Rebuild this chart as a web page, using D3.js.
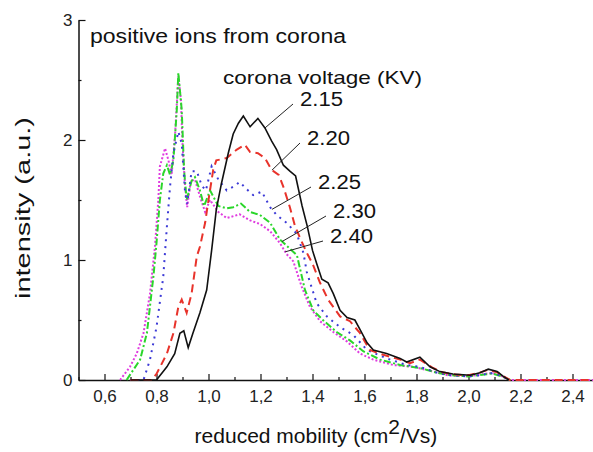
<!DOCTYPE html>
<meta charset="utf-8" />
<style>
  body { margin: 0; background: #fff; }
  text { font-family: "Liberation Sans", Arial, sans-serif; fill: #111; }
  .axis path, .axis line { stroke: #111; }
  .axis path { stroke-width: 1.5; }
  .axis line { stroke-width: 1.2; }
  .axis text { font-size: 17px; fill: #222; }
  .curve { fill: none; }
</style>
<svg width="593" height="452"></svg>
<script src="https://d3js.org/d3.v7.min.js"></script>
<script>
  // reduced mobility (cm2/Vs) and intensity (a.u.) for each corona voltage
  var x215 = [0.70, 0.80, 0.84, 0.87, 0.89, 0.905, 0.922, 0.94, 0.967, 0.993, 1.012, 1.03, 1.05, 1.076, 1.095, 1.115, 1.134, 1.16, 1.19, 1.217, 1.243, 1.262, 1.288, 1.313, 1.335, 1.36, 1.38, 1.40, 1.416, 1.436, 1.46, 1.48, 1.506, 1.533, 1.563, 1.583, 1.61, 1.634, 1.685, 1.737, 1.762, 1.813, 1.852, 1.89, 1.94, 2.006, 2.044, 2.076, 2.11, 2.134, 2.155];
  var y215 = [0, 0, 0.11, 0.22, 0.39, 0.41, 0.27, 0.39, 0.56, 0.75, 1.08, 1.42, 1.64, 1.89, 2.05, 2.14, 2.20, 2.11, 2.18, 2.10, 1.99, 1.92, 1.79, 1.74, 1.70, 1.45, 1.28, 1.08, 0.97, 0.84, 0.81, 0.72, 0.58, 0.52, 0.50, 0.42, 0.31, 0.25, 0.22, 0.18, 0.15, 0.19, 0.11, 0.07, 0.05, 0.04, 0.06, 0.09, 0.07, 0.03, 0];

  var x220 = [0.70, 0.78, 0.80, 0.84, 0.865, 0.884, 0.897, 0.916, 0.935, 0.955, 0.967, 0.987, 1.00, 1.018, 1.03, 1.07, 1.109, 1.14, 1.16, 1.19, 1.217, 1.243, 1.27, 1.288, 1.313, 1.333, 1.355, 1.378, 1.40, 1.429, 1.46, 1.506, 1.544, 1.583, 1.62, 1.672, 1.737, 1.775, 1.813, 1.864, 1.90, 1.95, 2.0, 2.04, 2.075, 2.11, 2.135, 2.16, 2.5];
  var y220 = [0, 0, 0.05, 0.22, 0.39, 0.61, 0.67, 0.56, 0.72, 1.03, 1.11, 1.31, 1.5, 1.75, 1.83, 1.85, 1.92, 1.96, 1.90, 1.89, 1.85, 1.75, 1.71, 1.61, 1.44, 1.28, 1.17, 1.06, 0.97, 0.81, 0.67, 0.53, 0.49, 0.39, 0.25, 0.21, 0.17, 0.14, 0.17, 0.10, 0.065, 0.045, 0.04, 0.06, 0.085, 0.065, 0.03, 0, 0];

  var x225 = [0.70, 0.75, 0.775, 0.80, 0.826, 0.84, 0.852, 0.865, 0.884, 0.897, 0.91, 0.918, 0.935, 0.955, 0.974, 0.99, 1.012, 1.038, 1.07, 1.095, 1.12, 1.147, 1.172, 1.205, 1.237, 1.262, 1.30, 1.339, 1.365, 1.378, 1.416, 1.455, 1.506, 1.557, 1.61, 1.685, 1.762, 1.813, 1.88, 1.93, 2.0, 2.05, 2.08, 2.12, 2.16];
  var y225 = [0, 0, 0.17, 0.44, 0.86, 1.28, 1.61, 1.89, 2.07, 1.97, 1.56, 1.47, 1.74, 1.74, 1.62, 1.58, 1.78, 1.67, 1.58, 1.61, 1.65, 1.59, 1.54, 1.57, 1.44, 1.375, 1.31, 1.22, 1.06, 0.90, 0.64, 0.53, 0.44, 0.375, 0.25, 0.18, 0.125, 0.11, 0.06, 0.04, 0.03, 0.04, 0.06, 0.04, 0];

  var x230 = [0.685, 0.737, 0.763, 0.788, 0.80, 0.813, 0.826, 0.84, 0.852, 0.865, 0.878, 0.884, 0.897, 0.906, 0.916, 0.935, 0.948, 0.967, 0.983, 1.006, 1.018, 1.038, 1.07, 1.095, 1.125, 1.16, 1.198, 1.237, 1.275, 1.30, 1.34, 1.371, 1.403, 1.44, 1.493, 1.544, 1.595, 1.66, 1.737, 1.813, 1.88, 1.93, 2.0, 2.06, 2.09, 2.13, 2.16];
  var y230 = [0, 0.17, 0.39, 0.86, 1.14, 1.5, 1.72, 1.79, 1.71, 1.83, 2.25, 2.56, 2.25, 1.75, 1.5, 1.66, 1.69, 1.58, 1.45, 1.58, 1.53, 1.45, 1.43, 1.44, 1.47, 1.40, 1.375, 1.31, 1.17, 1.12, 1.04, 0.75, 0.58, 0.50, 0.40, 0.33, 0.24, 0.17, 0.125, 0.10, 0.06, 0.04, 0.03, 0.045, 0.055, 0.03, 0];

  var x240 = [0.66, 0.698, 0.724, 0.75, 0.775, 0.794, 0.807, 0.813, 0.833, 0.846, 0.858, 0.871, 0.884, 0.894, 0.90, 0.91, 0.918, 0.932, 0.948, 0.967, 0.987, 1.006, 1.038, 1.07, 1.12, 1.16, 1.198, 1.237, 1.275, 1.30, 1.326, 1.358, 1.39, 1.429, 1.48, 1.533, 1.583, 1.634, 1.71, 1.788, 1.865, 1.92, 2.0, 2.06, 2.09, 2.13, 2.16, 2.5];
  var y240 = [0, 0.11, 0.22, 0.39, 0.72, 1.11, 1.5, 1.78, 1.93, 1.83, 1.71, 2.03, 2.53, 2.33, 1.97, 1.61, 1.44, 1.66, 1.67, 1.53, 1.40, 1.5, 1.40, 1.35, 1.38, 1.33, 1.30, 1.24, 1.14, 1.05, 0.99, 0.78, 0.61, 0.49, 0.40, 0.32, 0.22, 0.17, 0.125, 0.11, 0.07, 0.04, 0.03, 0.05, 0.06, 0.03, 0, 0];

  var voltages = ["2.15", "2.20", "2.25", "2.30", "2.40"];
  var labelAt = [1.217, 1.244, 1.244, 1.283, 1.295]; // mobility where each leader touches its curve
  var xTicks = [0.6, 0.8, 1.0, 1.2, 1.4, 1.6, 1.8, 2.0, 2.2, 2.4];
  var xMinor = [0.5, 0.7, 0.9, 1.1, 1.3, 1.5, 1.7, 1.9, 2.1, 2.3, 2.5];
  var yTicks = [0, 1, 2, 3];
  var yMinor = [0.5, 1.5, 2.5];

  var series = [
    { xs: x215, ys: y215, color: "#111", width: 1.6, dash: null },
    { xs: x220, ys: y220, color: "#e8332b", width: 2, dash: "8,5" },
    { xs: x225, ys: y225, color: "#3c3ad6", width: 2, dash: "2,5" },
    { xs: x230, ys: y230, color: "#2ad62a", width: 2, dash: "7,2.5,2,2.5" },
    { xs: x240, ys: y240, color: "#e03ce0", width: 2, dash: "2,2" }
  ];

  var svg = d3.select("svg");
  var x = d3.scaleLinear().domain([0.5, 2.5]).range([78.5, 598.5]);
  var y = d3.scaleLinear().domain([0, 3]).range([380, 20]);
  var comma = d => d3.format(".1f")(d).replace(".", ",");

  // minor ticks first, then major axes
  svg.append("g")
    .attr("class", "axis")
    .attr("transform", "translate(0,380)")
    .call(d3.axisBottom(x).tickValues(xMinor).tickSize(-3).tickFormat(""))
    .select(".domain").remove();
  svg.append("g")
    .attr("class", "axis")
    .attr("transform", "translate(78.5,0)")
    .call(d3.axisLeft(y).tickValues(yMinor).tickSize(-3).tickFormat(""))
    .select(".domain").remove();

  svg.append("g")
    .attr("class", "axis")
    .attr("transform", "translate(0,380)")
    .call(d3.axisBottom(x).tickValues(xTicks).tickSize(-6).tickSizeOuter(0).tickPadding(10).tickFormat(comma));
  svg.append("g")
    .attr("class", "axis")
    .attr("transform", "translate(78.5,0)")
    .call(d3.axisLeft(y).tickValues(yTicks).tickSize(-7).tickSizeOuter(0).tickPadding(6).tickFormat(d3.format("d")));

  var line = d3.line().x(d => x(d[0])).y(d => y(d[1]));

  // draw the widest-spread curves first, black on top
  series.slice().reverse().forEach(function(s) {
    svg.append("path")
      .attr("class", "curve")
      .attr("d", line(d3.zip(s.xs, s.ys)))
      .attr("stroke", s.color)
      .attr("stroke-width", s.width)
      .attr("stroke-dasharray", s.dash);
  });

  // labels with leader lines
  var labelPos = [[300, 106], [307, 145], [318, 189], [333, 218], [330, 243]];
  voltages.forEach(function(v, i) {
    var s = series[i];
    var yv = d3.scaleLinear().domain(s.xs).range(s.ys)(labelAt[i]);
    var p = labelPos[i];
    svg.append("line")
      .attr("x1", p[0] - 7).attr("y1", p[1] - 2)
      .attr("x2", x(labelAt[i])).attr("y2", y(yv))
      .attr("stroke", "#222").attr("stroke-width", 1);
    svg.append("text")
      .attr("x", p[0]).attr("y", p[1])
      .attr("font-size", 20)
      .attr("textLength", 43).attr("lengthAdjust", "spacingAndGlyphs")
      .text(v);
  });

  svg.append("text")
    .attr("x", 90).attr("y", 43)
    .attr("font-size", 20)
    .attr("textLength", 256).attr("lengthAdjust", "spacingAndGlyphs")
    .text("positive ions from corona");

  svg.append("text")
    .attr("x", 223).attr("y", 84)
    .attr("font-size", 19)
    .attr("textLength", 199).attr("lengthAdjust", "spacingAndGlyphs")
    .text("corona voltage (KV)");

  svg.append("text")
    .attr("transform", "translate(30,208) rotate(-90)")
    .attr("text-anchor", "middle")
    .attr("font-size", 20)
    .attr("textLength", 182).attr("lengthAdjust", "spacingAndGlyphs")
    .text("intensity (a.u.)");

  var xt = svg.append("text")
    .attr("x", 316).attr("y", 443)
    .attr("text-anchor", "middle")
    .attr("font-size", 21);
  xt.append("tspan").text("reduced mobility (cm");
  xt.append("tspan").attr("dy", -9).text("2");
  xt.append("tspan").attr("dy", 9).text("/Vs)");
</script>
